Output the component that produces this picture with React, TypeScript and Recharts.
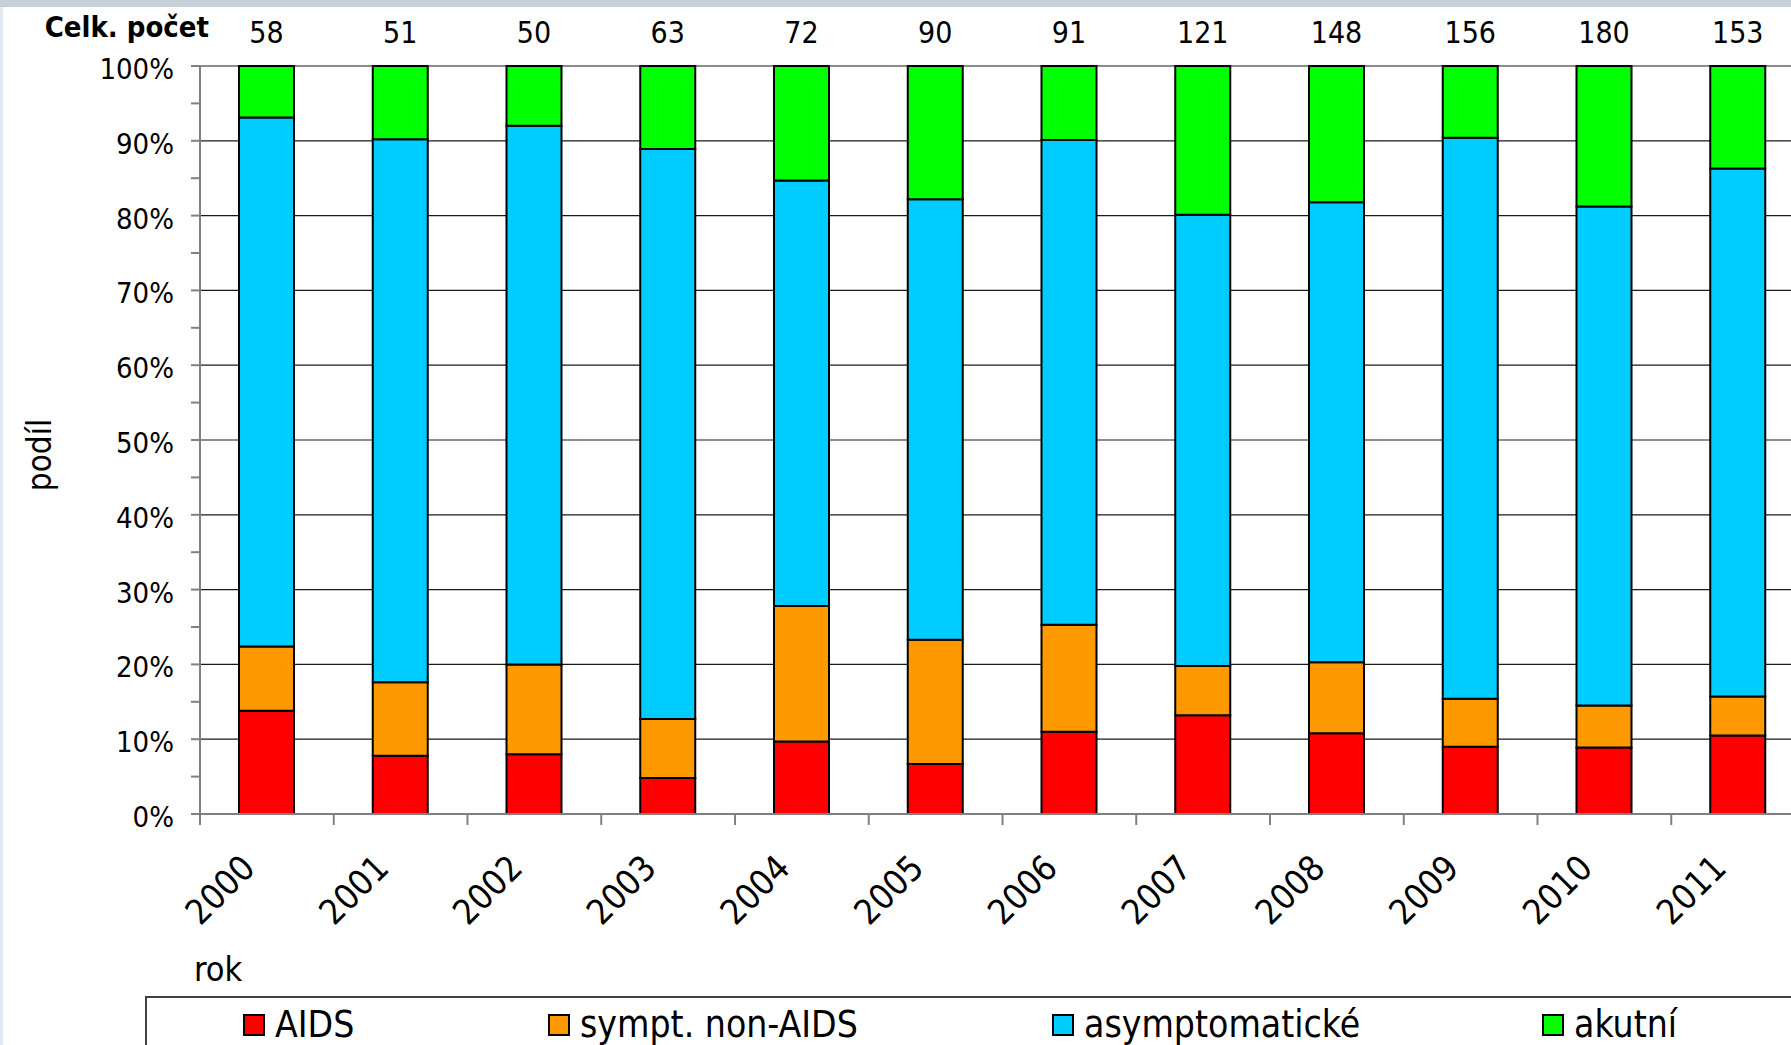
import React from 'react';
import { BarChart, Bar, XAxis, YAxis, CartesianGrid, LabelList } from 'recharts';

// roky a celkové počty
const years = ['2000', '2001', '2002', '2003', '2004', '2005', '2006', '2007', '2008', '2009', '2010', '2011'];
const totals = [58, 51, 50, 63, 72, 90, 91, 121, 148, 156, 180, 153];

// podíly v % (zdola nahoru)
const aids = [13.8, 7.8, 8.0, 4.8, 9.7, 6.7, 11.0, 13.2, 10.8, 9.0, 8.9, 10.5];
const symptNonAids = [8.6, 9.8, 12.0, 7.9, 18.1, 16.6, 14.3, 6.6, 9.5, 6.4, 5.6, 5.2];
const asymptomatic = [70.7, 72.6, 72.0, 76.2, 56.9, 58.9, 64.8, 60.3, 61.5, 75.0, 66.7, 70.6];
const acute = [6.9, 9.8, 8.0, 11.1, 15.3, 17.8, 9.9, 19.9, 18.2, 9.6, 18.8, 13.7];

const yTicks = [0, 5, 10, 15, 20, 25, 30, 35, 40, 45, 50, 55, 60, 65, 70, 75, 80, 85, 90, 95, 100];
const gridValues = [10, 20, 30, 40, 50, 60, 70, 80, 90, 100];

const seriesNames = ['AIDS', 'sympt. non-AIDS', 'asymptomatické', 'akutní'];
const seriesColors = ['#ff0000', '#ff9900', '#00ccff', '#00ff00'];

const data = years.map((year, i) => ({
    year,
    total: totals[i],
    aids: aids[i],
    sympt: symptNonAids[i],
    asym: asymptomatic[i],
    acute: acute[i],
}));

const FONT = "'DejaVu Sans Condensed', 'DejaVu Sans', sans-serif";
const CAT_W = 1605 / 12;

const PctTick = (props: any) => {
    const { x, y, payload } = props;
    if (payload.value % 10 !== 0) return <g />;
    return (
        <text x={x} y={y + 13} textAnchor="end" fontSize={29} fontFamily={FONT} fill="#000">
            {payload.value}%
        </text>
    );
};

const YearTick = (props: any) => {
    const { x, y, payload } = props;
    const bx = x - CAT_W / 2;
    const tx = x - 10;
    const ty = y + 56;
    return (
        <g>
            <line x1={bx} y1={y} x2={bx} y2={y + 11} stroke="#808080" strokeWidth={2} />
            <text x={tx} y={ty} textAnchor="end" fontSize={35} fontFamily={FONT} fill="#000" transform={`rotate(-45, ${tx}, ${ty})`}>
                {payload.value}
            </text>
        </g>
    );
};

export default function App() {
    return (
        <div style={{ position: 'fixed', left: 0, top: 0, width: 1791, height: 1045, overflow: 'hidden', background: '#fff', fontFamily: FONT }}>
            <div style={{ position: 'absolute', left: 0, top: 0, width: 1791, height: 7, background: '#c5d0d8' }} />
            <div style={{ position: 'absolute', left: 0, top: 7, width: 3, height: 1038, background: '#e3e9f2' }} />

            <div style={{ position: 'absolute', left: 0, top: 0 }}>
                <BarChart width={1830} height={1045} data={data} margin={{ top: 66, right: 25, left: 0, bottom: 0 }}>
                    <CartesianGrid vertical={false} horizontalValues={gridValues} stroke="#1a1a1a" strokeWidth={1.2} />
                    <XAxis
                        dataKey="year"
                        height={231}
                        interval={0}
                        tickSize={0}
                        tickMargin={0}
                        tickLine={false}
                        axisLine={{ stroke: '#808080', strokeWidth: 2 }}
                        tick={<YearTick />}
                    />
                    <YAxis
                        width={200}
                        domain={[0, 100]}
                        ticks={yTicks}
                        interval={0}
                        tickSize={9}
                        tickMargin={17}
                        tickLine={{ stroke: '#808080', strokeWidth: 2 }}
                        axisLine={{ stroke: '#808080', strokeWidth: 2 }}
                        tick={<PctTick />}
                    />
                    <Bar dataKey="aids" stackId="a" barSize={55} fill={seriesColors[0]} stroke="#000" strokeWidth={2} isAnimationActive={false} />
                    <Bar dataKey="sympt" stackId="a" barSize={55} fill={seriesColors[1]} stroke="#000" strokeWidth={2} isAnimationActive={false} />
                    <Bar dataKey="asym" stackId="a" barSize={55} fill={seriesColors[2]} stroke="#000" strokeWidth={2} isAnimationActive={false} />
                    <Bar dataKey="acute" stackId="a" barSize={55} fill={seriesColors[3]} stroke="#000" strokeWidth={2} isAnimationActive={false}>
                        <LabelList dataKey="total" position="top" offset={23} fontSize={30} fontFamily={FONT} fill="#000" />
                    </Bar>
                </BarChart>
            </div>

            <div style={{ position: 'absolute', right: 1791 - 209, top: 10, fontSize: 29, fontWeight: 'bold', lineHeight: '34px', whiteSpace: 'nowrap' }}>
                Celk. počet
            </div>
            <div style={{ position: 'absolute', left: 39, top: 455, transform: 'translate(-50%, -50%) rotate(-90deg)', fontSize: 33, whiteSpace: 'nowrap' }}>
                podíl
            </div>
            <div style={{ position: 'absolute', left: 194, top: 949, fontSize: 34, lineHeight: '40px' }}>
                rok
            </div>

            <div style={{ position: 'absolute', left: 145, top: 996, width: 1700, height: 100, border: '2px solid #404040', boxSizing: 'border-box' }}>
                {seriesNames.map((name, i) => {
                    const left = [96, 401, 905, 1395][i];
                    return (
                        <div key={name} style={{ position: 'absolute', left, top: 15, display: 'flex', alignItems: 'center', whiteSpace: 'nowrap' }}>
                            <div style={{ width: 22, height: 22, background: seriesColors[i], border: '2px solid #000', boxSizing: 'border-box', marginRight: 10 }} />
                            <span style={{ fontSize: 37, lineHeight: '24px' }}>{name}</span>
                        </div>
                    );
                })}
            </div>
        </div>
    );
}
